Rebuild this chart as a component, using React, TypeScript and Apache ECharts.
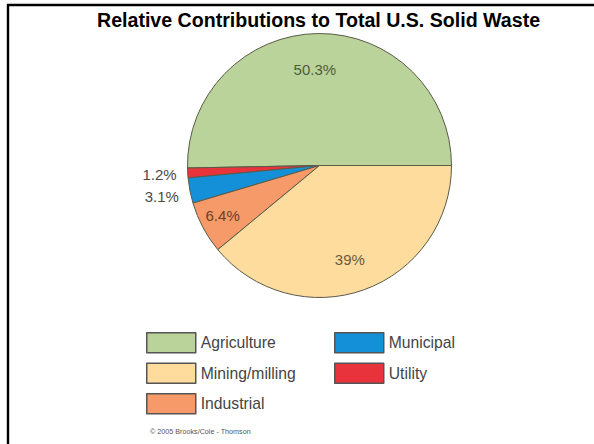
import React, { useEffect, useRef } from "react";
import * as echarts from "echarts";

// ---- data ----
const categories = ["Agriculture", "Utility", "Municipal", "Industrial", "Mining/milling"];
const shares = [50.3, 1.2, 3.1, 6.4, 39];
const shareLabels = ["50.3%", "1.2%", "3.1%", "6.4%", "39%"];
const legendColumn1 = ["Agriculture", "Mining/milling", "Industrial"];
const legendColumn2 = ["Municipal", "Utility"];
const titleText = "Relative Contributions to Total U.S. Solid Waste";
const creditText = "\u00a9 2005 Brooks/Cole - Thomson";

// ---- styles ----
const sliceColors = ["#b9d39b", "#e8333c", "#1490d8", "#f59a68", "#fddc9e"];
const labelColors = ["#4d5d3a", "#4a4a4a", "#4a4a4a", "#6e3f26", "#6b5a38"];
const labelShifts = [
  [-4, -27],
  [-91, 5],
  [-90, 18],
  [-36, 18],
  [7, 29],
];
const FONT = "Liberation Sans, Arial, Helvetica, sans-serif";

export default function App() {
  const ref = useRef<HTMLDivElement>(null);

  useEffect(() => {
    if (!ref.current) return;
    const chart = echarts.init(ref.current, null, { renderer: "svg" });

    const legendCommon = {
      orient: "vertical" as const,
      top: 332,
      padding: 0,
      itemGap: 9,
      itemWidth: 49,
      itemHeight: 20,
      icon: "rect",
      selectedMode: false,
      itemStyle: { borderColor: "#555", borderWidth: 1.5 },
      textStyle: { fontSize: 15.7, color: "#444", fontFamily: FONT },
    };

    chart.setOption({
      animation: false,
      backgroundColor: "#ffffff",
      title: {
        text: titleText,
        left: 97,
        top: 10,
        padding: 0,
        textStyle: { fontSize: 19.6, fontWeight: "bold", color: "#000", fontFamily: FONT },
      },
      legend: [
        { ...legendCommon, left: 146, data: legendColumn1 },
        { ...legendCommon, left: 334, data: legendColumn2 },
      ],
      graphic: [
        {
          type: "rect",
          shape: { x: 8, y: 5, width: 700, height: 600 },
          style: { fill: "none", stroke: "#000", lineWidth: 2.4 },
          silent: true,
        },
        {
          type: "text",
          x: 150,
          y: 431,
          style: {
            text: creditText,
            fontSize: 7.2,
            fill: "#555",
            fontFamily: FONT,
            verticalAlign: "middle",
          },
          silent: true,
        },
      ],
      series: [
        {
          type: "pie",
          center: [319.5, 165.5],
          radius: 132,
          startAngle: 0,
          clockwise: false,
          avoidLabelOverlap: false,
          itemStyle: { borderColor: "#5a5a48", borderWidth: 1 },
          emphasis: { disabled: true },
          label: {
            show: true,
            position: "inside",
            fontSize: 15,
            fontFamily: FONT,
            formatter: (p: any) => shareLabels[p.dataIndex],
          },
          labelLine: { show: false },
          labelLayout: (p: any) => ({
            dx: labelShifts[p.dataIndex][0],
            dy: labelShifts[p.dataIndex][1],
          }),
          data: categories.map((name, i) => ({
            name,
            value: shares[i],
            itemStyle: { color: sliceColors[i] },
            label: { color: labelColors[i] },
          })),
        },
      ],
    });

    return () => chart.dispose();
  }, []);

  return (
    <div
      ref={ref}
      style={{ position: "absolute", left: 0, top: 0, width: 594, height: 444, background: "#fff" }}
    />
  );
}
